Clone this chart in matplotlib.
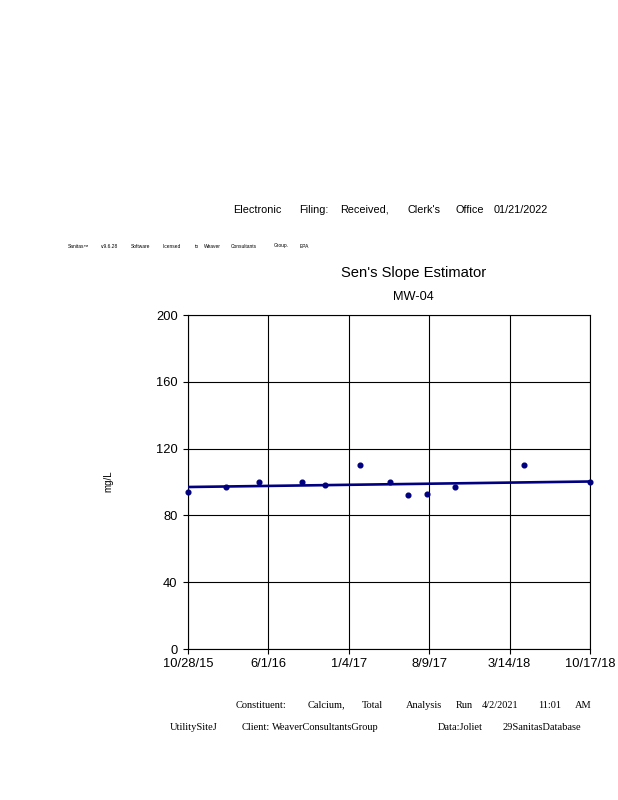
import matplotlib
matplotlib.use("Agg")
import matplotlib.pyplot as plt
import matplotlib.dates as mdates
import numpy as np
import pandas as pd

# ---- data ----
sample_dates = ["2015-10-28", "2016-02-08", "2016-05-07", "2016-08-30", "2016-10-31",
                "2017-02-03", "2017-04-26", "2017-06-12", "2017-08-02", "2017-10-18",
                "2018-04-23", "2018-10-17"]
calcium_mgL = [94, 97, 100, 100, 98, 110, 100, 92, 93, 97, 110, 100]
trend_dates = ["2015-10-28", "2018-10-17"]
trend_values = [97.0, 100.3]
xtick_dates = ["2015-10-28", "2016-06-01", "2017-01-04", "2017-08-09", "2018-03-14", "2018-10-17"]
xtick_labels = ["10/28/15", "6/1/16", "1/4/17", "8/9/17", "3/14/18", "10/17/18"]
yticks = [0, 40, 80, 120, 160, 200]

W, H = 618, 800
fig = plt.figure(figsize=(W / 100, H / 100), dpi=100)
fig.patch.set_facecolor("white")

L, R, T, B = 188, 590, 315, 649
ax = fig.add_axes([L / W, 1 - B / H, (R - L) / W, (B - T) / H])

sd = pd.to_datetime(sample_dates)
td = pd.to_datetime(trend_dates)
navy = "#000080"
ax.plot(td, trend_values, color=navy, lw=1.9, zorder=3, solid_capstyle="butt")
ax.plot(sd, calcium_mgL, "o", color=navy, ms=3.4, zorder=4, clip_on=False)

xt = pd.to_datetime(xtick_dates)
ax.set_xlim(xt[0], xt[-1])
ax.set_ylim(0, 200)
ax.set_xticks(xt)
ax.set_xticklabels(xtick_labels)
ax.set_yticks(yticks)
ax.grid(True, color="black", lw=0.8)
ax.set_axisbelow(True)
for s in ax.spines.values():
    s.set_color("black")
    s.set_linewidth(0.8)
ax.tick_params(axis="both", length=3.5, width=0.8, color="black",
               labelsize=9.3, labelcolor="black")
ax.tick_params(axis="x", pad=3)
ax.tick_params(axis="y", pad=4)
for lab in ax.get_xticklabels() + ax.get_yticklabels():
    lab.set_fontfamily("Liberation Sans")

# titles
fig.text(414 / W, 1 - 273 / H, "Sen's Slope Estimator", ha="center", va="center",
         fontsize=10.6, family="Liberation Sans")
fig.text(413 / W, 1 - 297 / H, "MW-04", ha="center", va="center",
         fontsize=9.2, family="Liberation Sans")
fig.text(108 / W, 1 - 481 / H, "mg/L", ha="center", va="center", rotation=90,
         fontsize=7, family="Liberation Sans")

# header line
hdr = [("Electronic", 233), ("Filing:", 299), ("Received,", 340), ("Clerk's", 407),
       ("Office", 455), ("01/21/2022", 494)]
for w, x in hdr:
    fig.text(x / W, 1 - 210 / H, w, ha="left", va="center", fontsize=7.8,
             family="Liberation Sans")

tiny = [("Sanitas\u2122", 68), ("v.9.6.28", 101), ("Software", 131), ("licensed", 163),
        ("to", 195), ("Weaver", 204), ("Consultants", 231), ("Group.", 274), ("EPA", 300)]
for w, x in tiny:
    fig.text(x / W, 1 - 246 / H, w, ha="left", va="center", fontsize=3.5,
             family="Liberation Sans")

foot1 = [("Constituent:", 236), ("Calcium,", 308), ("Total", 362), ("Analysis", 406),
         ("Run", 456), ("4/2/2021", 482), ("11:01", 538), ("AM", 575)]
for w, x in foot1:
    fig.text(x / W, 1 - 705 / H, w, ha="left", va="center", fontsize=7.5,
             family="Liberation Serif")
foot2 = [("UtilitySiteJ", 170), ("Client:", 242), ("WeaverConsultantsGroup", 272),
         ("Data:Joliet", 438), ("29SanitasDatabase", 503)]
for w, x in foot2:
    fig.text(x / W, 1 - 727 / H, w, ha="left", va="center", fontsize=7.5,
             family="Liberation Serif")

fig.savefig("out.png", dpi=100, facecolor="white")
